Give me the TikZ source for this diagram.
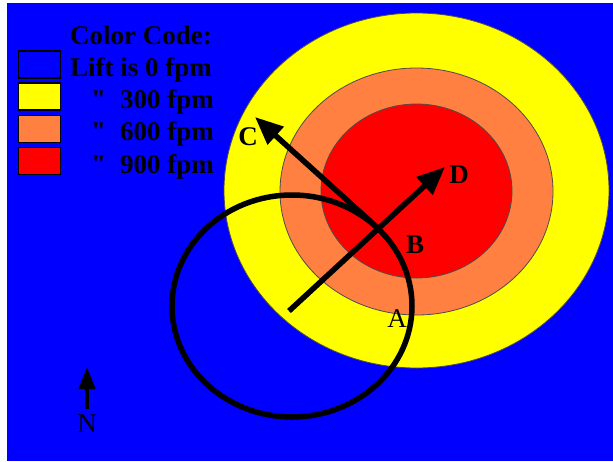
\documentclass[tikz,border=0pt]{standalone}
\usepackage{fontspec}
\setmainfont{Liberation Serif}
\usepackage{tikz}
\usetikzlibrary{positioning,arrows.meta}
\definecolor{liftblue}{RGB}{0,0,255}
\definecolor{liftyellow}{RGB}{255,255,0}
\definecolor{liftorange}{RGB}{255,128,64}
\definecolor{liftred}{RGB}{255,0,0}
\tikzset{
  zone/.style={draw=black!70,line width=0.8pt},
  keybox/.style={rectangle,draw=black,line width=1.6pt,minimum width=42pt,minimum height=27pt,inner sep=0pt},
  keytext/.style={inner sep=0pt,font=\fontsize{27}{30}\selectfont\bfseries},
  pointlabel/.style={inner sep=0pt,font=\fontsize{27}{30}\selectfont\bfseries},
  plainlabel/.style={inner sep=0pt,font=\fontsize{27}{30}\selectfont},
  track/.style={line width=5.5pt,black},
  heading/.style={-{Triangle[length=28pt,width=23pt]},line width=5.5pt},
  north/.style={-{Triangle[length=22pt,width=16pt]},line width=4.5pt}
}

\begin{document}
\begin{tikzpicture}[x=1pt,y=-1pt]
  \useasboundingbox (0,0) rectangle (613,461);
  \fill[liftblue] (7,3) rectangle (613,461);

  % thermal, outer to inner
  \filldraw[zone,fill=liftyellow] (416.5,190.5) ellipse [x radius=192.5,y radius=177.5];
  \filldraw[zone,fill=liftorange] (416.5,191.5) ellipse [x radius=136.5,y radius=123.5];
  \filldraw[zone,fill=liftred] (416.5,191) ellipse [x radius=95.5,y radius=87];

  % legend
  \node[keybox,fill=liftblue] (key0) at (39.5,64.5) {};
  \node[keybox,fill=liftyellow] (key300) at (39.5,96.5) {};
  \node[keybox,fill=liftorange] (key600) at (39.5,129) {};
  \node[keybox,fill=liftred] (key900) at (39.5,161) {};
  \node[keytext,anchor=base west] (title) at (70,44) {Color Code:};
  \node[keytext,anchor=base west] (txt0) at (70,76) {Lift is 0 fpm};
  \node[keytext,anchor=base west] (q300) at (91,108) {\textquotedbl};
  \node[keytext,anchor=base west] (txt300) at (120,108) {300 fpm};
  \node[keytext,anchor=base west] (q600) at (91,140) {\textquotedbl};
  \node[keytext,anchor=base west] (txt600) at (120,140) {600 fpm};
  \node[keytext,anchor=base west] (q900) at (91,173) {\textquotedbl};
  \node[keytext,anchor=base west] (txt900) at (120,173) {900 fpm};

  % glider path
  \draw[track] (292,306) ellipse [x radius=120,y radius=111];
  \coordinate (start) at (289,311);
  \coordinate (tipD) at (445,167);
  \coordinate (startC) at (380,230);
  \coordinate (tipC) at (255,117);
  \draw[heading] (start) -- (tipD);
  \draw[heading] (startC) -- (tipC);

  \node[plainlabel] (A) at (397,319) {A};
  \node[pointlabel] (B) at (415,245) {B};
  \node[pointlabel] (C) at (248,137) {C};
  \node[pointlabel] (D) at (459,175) {D};

  % north
  \coordinate (nbase) at (87,409);
  \coordinate (ntip) at (87,367);
  \draw[north] (nbase) -- (ntip);
  \node[plainlabel] (N) at (87,424) {N};
\end{tikzpicture}
\end{document}
